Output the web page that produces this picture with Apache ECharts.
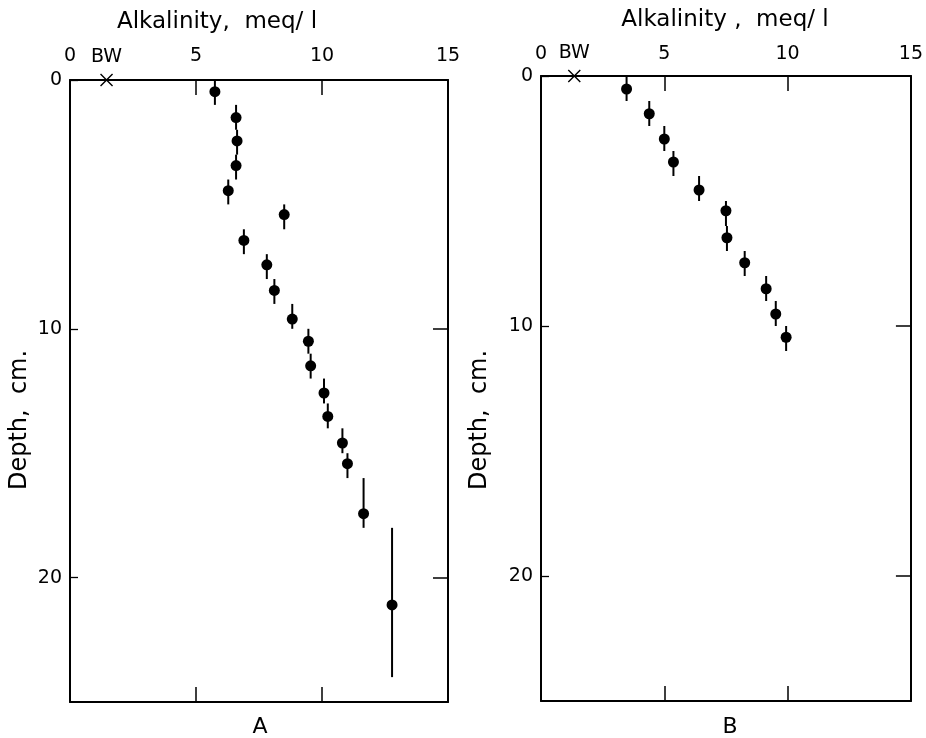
<!DOCTYPE html>
<html>
<head>
<meta charset="utf-8">
<script src="https://cdn.jsdelivr.net/npm/echarts@6/dist/echarts.min.js"></script>
<style>
  html, body { margin: 0; padding: 0; background: #fff; }
  #chart { width: 926px; height: 738px; }
</style>
</head>
<body>
<div id="chart"></div>
<script>
// Core A: alkalinity (meq/l) at each sampled depth, with the depth slice (cm) it covers
const alkA   = [5.75, 6.59, 6.63, 6.59, 6.28, 8.5, 6.9, 7.81, 8.11, 8.82, 9.46, 9.55, 10.08, 10.23, 10.81, 11.01, 11.65, 12.78];
const depthA = [0.47, 1.51, 2.45, 3.44, 4.45, 5.41, 6.45, 7.43, 8.46, 9.61, 10.5, 11.49, 12.58, 13.52, 14.59, 15.42, 17.43, 21.1];
const topA   = [0, 1, 2, 3, 4, 5, 6, 7, 8, 9, 10, 11, 12, 13, 14, 15, 16, 18];
const botA   = [1, 2, 3, 4, 5, 6, 7, 8, 9, 10, 11, 12, 13, 14, 15, 16, 18, 24];
const bwA    = 1.45;

// Core B
const alkB   = [3.47, 4.39, 5.0, 5.37, 6.41, 7.5, 7.54, 8.26, 9.13, 9.52, 9.94];
const depthB = [0.52, 1.51, 2.52, 3.44, 4.56, 5.39, 6.47, 7.47, 8.51, 9.52, 10.45];
const topB   = [0, 1, 2, 3, 4, 5, 6, 7, 8, 9, 10];
const botB   = [1, 2, 3, 4, 5, 6, 7, 8, 9, 10, 11];
const bwB    = 1.35;

// Axis settings
const alkMin = 0, alkMax = 15, alkStep = 5;
const depthMin = 0, depthMax = 25, depthStep = 10;

const FONT = '"DejaVu Sans", sans-serif';
const INK = '#000';

const chart = echarts.init(document.getElementById('chart'), null, { renderer: 'canvas' });

const frameLine = { show: true, onZero: false, lineStyle: { color: INK, width: 2 } };

function xAxes(gi, labelMargin) {
  return [
    {
      gridIndex: gi, type: 'value', position: 'top',
      min: alkMin, max: alkMax, interval: alkStep,
      axisLine: frameLine,
      axisTick: { show: true, inside: true, length: 15, lineStyle: { color: INK, width: 1.5 } },
      axisLabel: { show: true, color: INK, fontFamily: FONT, fontSize: 19, margin: labelMargin },
      splitLine: { show: false }
    },
    {
      gridIndex: gi, type: 'value', position: 'bottom',
      min: alkMin, max: alkMax, interval: alkStep,
      axisLine: frameLine,
      axisTick: { show: true, inside: true, length: 15, lineStyle: { color: INK, width: 1.5 } },
      axisLabel: { show: false },
      splitLine: { show: false }
    }
  ];
}

function yAxes(gi) {
  return [
    {
      gridIndex: gi, type: 'value', position: 'left', inverse: true,
      min: depthMin, max: depthMax, interval: depthStep,
      axisLine: frameLine,
      axisTick: { show: true, inside: true, length: 8, lineStyle: { color: INK, width: 1.3 } },
      axisLabel: { show: true, color: INK, fontFamily: FONT, fontSize: 19, margin: 8, showMaxLabel: false },
      splitLine: { show: false }
    },
    {
      gridIndex: gi, type: 'value', position: 'right', inverse: true,
      min: depthMin, max: depthMax, interval: depthStep,
      axisLine: frameLine,
      axisTick: { show: true, inside: true, length: 15, lineStyle: { color: INK, width: 1.5 } },
      axisLabel: { show: false },
      splitLine: { show: false }
    }
  ];
}

function errorBars(xi, yi, alk, top, bot) {
  return {
    type: 'custom',
    xAxisIndex: xi, yAxisIndex: yi,
    clip: false,
    silent: true,
    data: alk.map((v, i) => [v, top[i], bot[i]]),
    encode: { x: 0, y: [1, 2] },
    renderItem: function (params, api) {
      const p1 = api.coord([api.value(0), api.value(1)]);
      const p2 = api.coord([api.value(0), api.value(2)]);
      return {
        type: 'line',
        shape: { x1: p1[0], y1: p1[1], x2: p2[0], y2: p2[1] },
        style: { stroke: INK, lineWidth: 2 }
      };
    }
  };
}

function dots(xi, yi, alk, depth) {
  return {
    type: 'scatter',
    xAxisIndex: xi, yAxisIndex: yi,
    clip: false,
    symbol: 'circle', symbolSize: 11,
    itemStyle: { color: INK, opacity: 1 },
    data: alk.map((v, i) => [v, depth[i]])
  };
}

function bottomWater(xi, yi, bw) {
  return {
    type: 'scatter',
    xAxisIndex: xi, yAxisIndex: yi,
    clip: false,
    symbol: 'path://M0,0L10,10M10,0L0,10',
    symbolSize: 12,
    itemStyle: { color: 'none', borderColor: INK, borderWidth: 1.4, opacity: 1 },
    label: {
      show: true, position: 'top', distance: 5, formatter: 'BW',
      color: INK, fontFamily: FONT, fontSize: 19
    },
    data: [[bw, 0]]
  };
}

function txt(x, y, s, size, rot) {
  return {
    type: 'text', x: x, y: y, rotation: rot || 0,
    style: {
      text: s, fill: INK, font: size + 'px ' + FONT,
      align: 'center', verticalAlign: 'middle',
      textAlign: 'center', textVerticalAlign: 'middle'
    }
  };
}

const option = {
  backgroundColor: '#fff',
  animation: false,
  grid: [
    { left: 70, top: 80, width: 378, height: 622 },
    { left: 541, top: 76, width: 376, height: 625 }
  ],
  xAxis: [].concat(xAxes(0, 14), xAxes(1, 12)),
  yAxis: [].concat(yAxes(0), yAxes(1)),
  series: [
    errorBars(0, 0, alkA, topA, botA),
    dots(0, 0, alkA, depthA),
    bottomWater(0, 0, bwA),
    errorBars(2, 2, alkB, topB, botB),
    dots(2, 2, alkB, depthB),
    bottomWater(2, 2, bwB)
  ],
  graphic: [
    txt(217, 22, 'Alkalinity,  meq/ l', 23),
    txt(725, 20, 'Alkalinity ,  meq/ l', 23),
    txt(20, 420, 'Depth,  cm.', 24, Math.PI / 2),
    txt(480, 420, 'Depth,  cm.', 24, Math.PI / 2),
    txt(260, 727, 'A', 22),
    txt(730, 727, 'B', 22)
  ]
};

chart.setOption(option);
</script>
</body>
</html>
